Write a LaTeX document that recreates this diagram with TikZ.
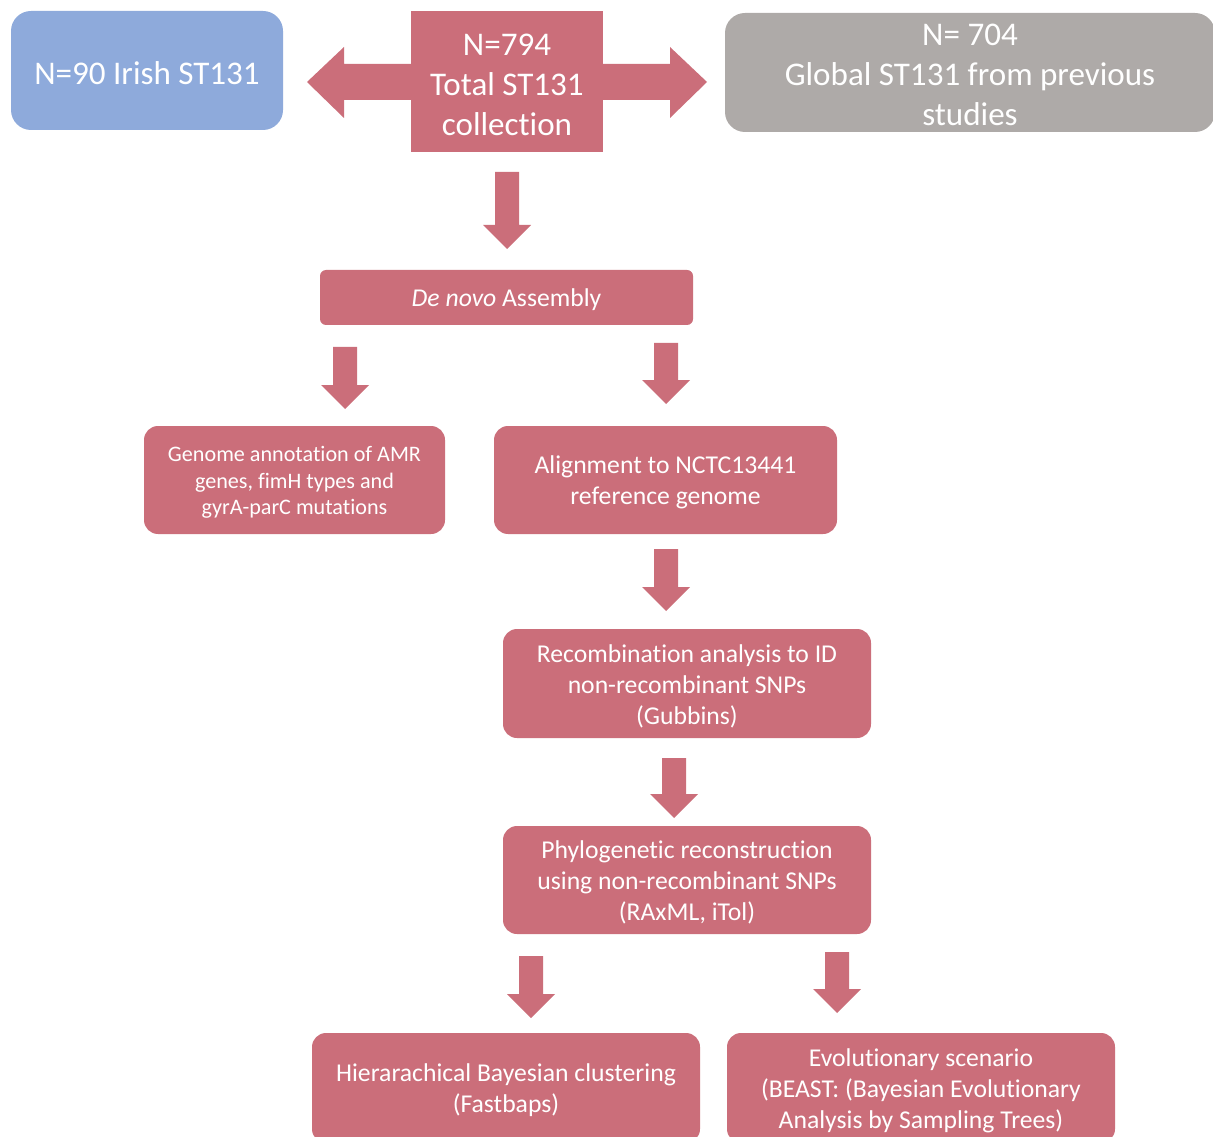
\documentclass[tikz,border=0pt]{standalone}
\usepackage{fontspec}
\setmainfont{Carlito}[Ligatures=NoCommon]
\definecolor{boxred}{RGB}{203,110,122}
\definecolor{boxblue}{RGB}{142,170,219}
\definecolor{boxgrey}{RGB}{174,170,168}
\def\u{0.75pt}
\tikzset{
  stepbox/.style 2 args={draw=none, fill=boxred, rounded corners=14*\u,
    minimum width=#1*\u, minimum height=#2*\u, inner sep=0pt},
  steptext/.style={text=white, align=center, inner sep=0pt},
  bigtext/.style={font=\fontsize{24.8}{30}\selectfont},
  midtext/.style={font=\fontsize{19.25}{23.25}\selectfont},
  smalltext/.style={font=\fontsize{16.6}{19.9}\selectfont},
  blockarrow/.style={fill=boxred, draw=none},
}
% box #2 centred at (#3,#4), size #5 x #6 (pixel units), with its label node #2-t
\newcommand{\flowbox}[7][]{%
  \node[stepbox={#5}{#6}, #1] (#2) at (#3,#4) {};
  \node[steptext, #7] (#2-t) at ([yshift=-2.5*\u]#2.center) {\flowtext};}
\newcommand{\flowtext}{}
% vertical block arrow: centre x, top y, tip y (pixel units)
\newcommand{\downblock}[3]{%
  \fill[blockarrow] (#1-12,#2) -- (#1+12,#2) -- (#1+12,#3-24) -- (#1+24,#3-24)
    -- (#1,#3) -- (#1-24,#3-24) -- (#1-12,#3-24) -- cycle;}
\begin{document}
\begin{tikzpicture}[x=\u, y=-\u]
\useasboundingbox (0,0) rectangle (1213,1137);
\clip (0,0) rectangle (1213,1137);

% double-headed block arrow behind the collection box
\fill[blockarrow] (307,82) -- (344,47) -- (344,64) -- (670,64) -- (670,47)
  -- (707,82) -- (670,118) -- (670,100) -- (344,100) -- (344,118) -- cycle;

% top row
\renewcommand{\flowtext}{N=90 Irish ST131}
\flowbox[fill=boxblue, rounded corners=20*\u]{irish}{147}{70.5}{272}{119}{bigtext}
\renewcommand{\flowtext}{N=794\\Total ST131\\collection}
\flowbox[rounded corners=0pt]{total}{507}{82}{192}{141}{bigtext}
\renewcommand{\flowtext}{N= 704\\Global ST131 from previous\\studies}
\flowbox[fill=boxgrey, rounded corners=20*\u]{global}{970}{72.5}{490}{119}{bigtext}

\downblock{507}{172}{249}

% assembly
\renewcommand{\flowtext}{\textit{De novo} Assembly}
\flowbox[rounded corners=6*\u]{assembly}{506.5}{297.5}{373}{55}{midtext}

\downblock{345}{347}{409}
\downblock{666}{343}{404}

% second level
\renewcommand{\flowtext}{Genome annotation of AMR\\genes, fimH types and\\gyrA-parC mutations}
\flowbox{annot}{294.5}{480}{301}{108}{smalltext}
\renewcommand{\flowtext}{Alignment to NCTC13441\\reference genome}
\flowbox{align}{665.5}{480}{343}{108}{midtext}

\downblock{666}{549}{611}

\renewcommand{\flowtext}{Recombination analysis to ID\\non-recombinant SNPs\\(Gubbins)}
\flowbox{recomb}{687}{683.5}{368}{109}{midtext}

\downblock{674}{758}{818}

\renewcommand{\flowtext}{Phylogenetic reconstruction\\using non-recombinant SNPs\\(RAxML, iTol)}
\flowbox{phylo}{687}{880}{368}{108}{midtext}

\downblock{531}{956}{1018}
\downblock{837}{952}{1013}

% bottom row
\renewcommand{\flowtext}{Hierarachical Bayesian clustering\\(Fastbaps)}
\flowbox{baps}{506}{1088}{388}{110}{midtext}
\renewcommand{\flowtext}{Evolutionary scenario\\(BEAST: (Bayesian Evolutionary\\Analysis by Sampling Trees)}
\flowbox{beast}{921}{1088}{388}{110}{midtext}
\end{tikzpicture}
\end{document}
